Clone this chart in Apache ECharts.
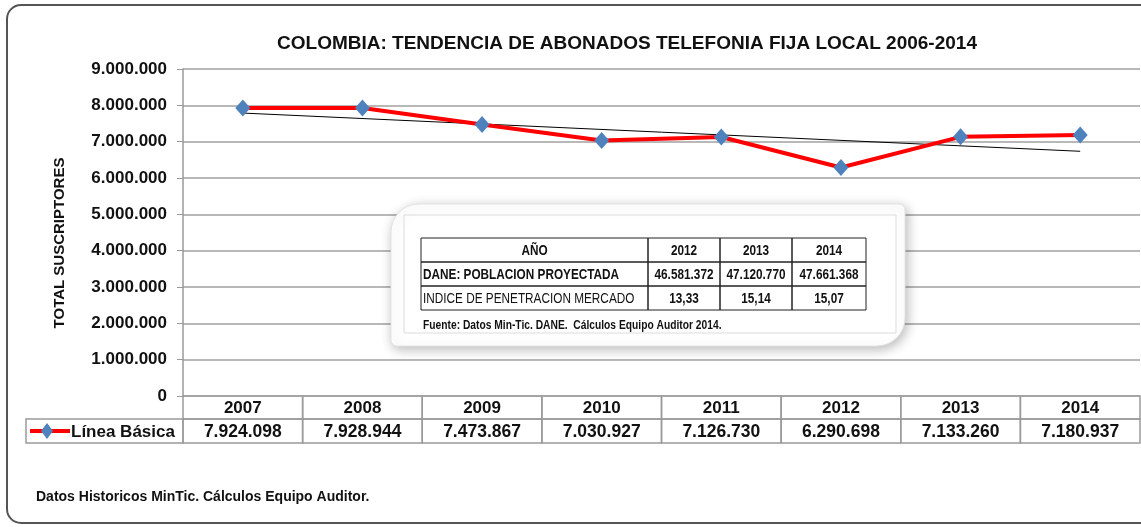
<!DOCTYPE html>
<html>
<head>
<meta charset="utf-8">
<script src="https://cdn.jsdelivr.net/npm/echarts@6/dist/echarts.min.js"></script>
<style>
  html, body { margin: 0; padding: 0; background: #fff; }
  #chart { width: 1141px; height: 527px; }
</style>
</head>
<body>
<div id="chart"></div>
<script>
// datos del gráfico
const years = ["2007", "2008", "2009", "2010", "2011", "2012", "2013", "2014"];
const lineaBasica = [7924098, 7928944, 7473867, 7030927, 7126730, 6290698, 7133260, 7180937];
// línea de tendencia (extremos)
const trendStart = 7787000;
const trendEnd = 6735000;
const yTicks = [0, 1000000, 2000000, 3000000, 4000000, 5000000, 6000000, 7000000, 8000000, 9000000];

// tabla del recuadro
const insetHeader = ["AÑO", "2012", "2013", "2014"];
const insetPoblacion = ["DANE: POBLACION PROYECTADA", "46.581.372", "47.120.770", "47.661.368"];
const insetIndice = ["INDICE DE PENETRACION MERCADO", "13,33", "15,14", "15,07"];

const FONT = "Liberation Sans, Arial, sans-serif";
const NARROW = 0.76; // el recuadro usa letra estrecha

const fmt = (v) => String(v).replace(/\B(?=(\d{3})+(?!\d))/g, ".");

const gridLeft = 183, gridTop = 69, gridRight = 1, gridBottom = 131;
const plotW = 1141 - gridLeft - gridRight;
const cellW = plotW / years.length;

const trendData = years.map((y, i) => i === 0 ? trendStart : (i === years.length - 1 ? trendEnd : null));

const chart = echarts.init(document.getElementById("chart"));

// tabla de datos bajo el eje
const graphics = [];
const borderColor = "#9a9a9a";
const rowY1 = 396, rowY2 = 419, rowY3 = 443;
years.forEach((y, i) => {
  const x = gridLeft + i * cellW;
  graphics.push({ type: "rect", shape: { x: x, y: rowY1, width: cellW, height: rowY2 - rowY1 },
    style: { fill: "none", stroke: borderColor, lineWidth: 1.5 } });
  graphics.push({ type: "rect", shape: { x: x, y: rowY2, width: cellW, height: rowY3 - rowY2 },
    style: { fill: "none", stroke: borderColor, lineWidth: 1.5 } });
  graphics.push({ type: "text", x: x + cellW / 2, y: (rowY1 + rowY2) / 2 + 1,
    style: { text: y, font: "bold 17px " + FONT, fill: "#111", align: "center", verticalAlign: "middle" } });
  graphics.push({ type: "text", x: x + cellW / 2, y: (rowY2 + rowY3) / 2 + 1,
    style: { text: fmt(lineaBasica[i]), font: "bold 17.5px " + FONT, fill: "#111", align: "center", verticalAlign: "middle" } });
});
// celda de leyenda
graphics.push({ type: "rect", shape: { x: 26, y: rowY2, width: gridLeft - 26, height: rowY3 - rowY2 },
  style: { fill: "none", stroke: borderColor, lineWidth: 1.5 } });
graphics.push({ type: "line", shape: { x1: 30, y1: 431, x2: 70, y2: 431 }, style: { stroke: "#ff0000", lineWidth: 4 } });
graphics.push({ type: "polygon", shape: { points: [[47, 423], [53, 431], [47, 439], [41, 431]] }, style: { fill: "#4f81bd" } });
graphics.push({ type: "text", x: 71, y: 432,
  style: { text: "Línea Básica", font: "bold 17px " + FONT, fill: "#111", verticalAlign: "middle" } });

// título del eje Y
graphics.push({ type: "text", x: 60, y: 243, rotation: Math.PI / 2,
  style: { text: "TOTAL SUSCRIPTORES", font: "bold 15px " + FONT, fill: "#111", align: "center", verticalAlign: "middle" } });

// recuadro con tabla de población
graphics.push({ type: "rect", shape: { x: 391, y: 204, width: 514, height: 142, r: [28, 6, 28, 6] },
  style: { fill: "#fff", stroke: "#e4e4e4", lineWidth: 1, shadowBlur: 12, shadowColor: "rgba(0,0,0,0.28)", shadowOffsetX: 2, shadowOffsetY: 3 }, z: 50 });
graphics.push({ type: "rect", shape: { x: 404, y: 215, width: 492, height: 118 },
  style: { fill: "none", stroke: "#dcdcdc", lineWidth: 1 }, z: 51 });
const colX = [421, 648, 720, 792, 866];
const rowYs = [238, 262, 286, 310];
const insetRows = [insetHeader, insetPoblacion, insetIndice];
insetRows.forEach((row, r) => {
  row.forEach((txt, c) => {
    graphics.push({ type: "rect", shape: { x: colX[c], y: rowYs[r], width: colX[c + 1] - colX[c], height: rowYs[r + 1] - rowYs[r] },
      style: { fill: "none", stroke: "#222", lineWidth: 1 }, z: 52 });
    const bold = !(r === 2 && c === 0);
    const left = c === 0 && r > 0;
    graphics.push({ type: "text", z: 53, scaleX: NARROW,
      x: left ? colX[c] + 2 : (colX[c] + colX[c + 1]) / 2, y: (rowYs[r] + rowYs[r + 1]) / 2 + 1,
      style: { text: txt, font: (bold ? "bold " : "") + "15.5px " + FONT, fill: "#111",
        align: left ? "left" : "center", verticalAlign: "middle" } });
  });
});
graphics.push({ type: "text", x: 423, y: 325, z: 53, scaleX: NARROW,
  style: { text: "Fuente: Datos Min-Tic. DANE.  Cálculos Equipo Auditor 2014.", font: "bold 13.5px " + FONT, fill: "#111", verticalAlign: "middle" } });

// borde exterior y nota
graphics.push({ type: "rect", shape: { x: 7, y: 5, width: 1150, height: 518, r: 14 },
  style: { fill: "none", stroke: "#555", lineWidth: 2 }, z: 0 });
graphics.push({ type: "text", x: 36, y: 497,
  style: { text: "Datos Historicos MinTic. Cálculos Equipo Auditor.", font: "bold 14px " + FONT, fill: "#111", verticalAlign: "middle" } });

const option = {
  animation: false,
  backgroundColor: "#fff",
  title: {
    text: "COLOMBIA: TENDENCIA DE ABONADOS TELEFONIA FIJA LOCAL 2006-2014",
    left: 622, top: 29, textAlign: "center",
    textStyle: { fontFamily: FONT, fontSize: 19, fontWeight: "bold", color: "#111" }
  },
  grid: { left: gridLeft, right: gridRight, top: gridTop, bottom: gridBottom, containLabel: false },
  xAxis: {
    type: "category",
    data: years,
    boundaryGap: true,
    axisLine: { show: false },
    axisTick: { show: false },
    axisLabel: { show: false }
  },
  yAxis: {
    type: "value",
    min: 0, max: 9000000, interval: 1000000,
    axisLine: { show: true, lineStyle: { color: "#999", width: 1.5 } },
    axisTick: { show: true, length: 6, lineStyle: { color: "#999" } },
    axisLabel: {
      fontFamily: FONT, fontSize: 17, fontWeight: "bold", color: "#111", margin: 16,
      formatter: (v) => yTicks.includes(v) ? fmt(v) : ""
    },
    splitLine: { lineStyle: { color: "#a0a0a0", width: 1.5 } }
  },
  series: [
    {
      name: "Línea Básica",
      type: "line",
      data: lineaBasica,
      lineStyle: { color: "#ff0000", width: 4 },
      itemStyle: { color: "#4f81bd" },
      symbol: "diamond",
      symbolSize: [15, 17],
      z: 5
    },
    {
      name: "Tendencia",
      type: "line",
      data: trendData,
      connectNulls: true,
      showSymbol: false,
      symbol: "none",
      lineStyle: { color: "#000", width: 1 },
      z: 4
    }
  ],
  graphic: graphics
};

chart.setOption(option);
</script>
</body>
</html>
